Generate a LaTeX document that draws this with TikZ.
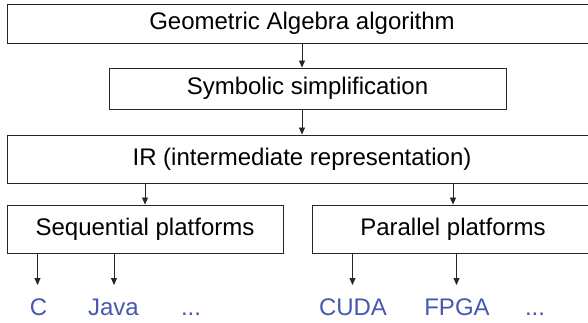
\documentclass[tikz,border=0pt]{standalone}
\usepackage{fontspec}
\setmainfont{Liberation Sans}
\usetikzlibrary{arrows.meta}
\definecolor{lblue}{RGB}{70,88,175}
\begin{document}
\begin{tikzpicture}[x=1pt,y=-1pt,
  box/.style={draw=black!85,line width=0.9pt,inner sep=0pt,font=\fontsize{24}{27}\selectfont},
  lang/.style={text=lblue,inner sep=0pt,font=\fontsize{24}{27}\selectfont,anchor=base},
  arr/.style={draw=black!85,line width=0.8pt,-{Triangle[length=7pt,width=6pt]}}]
\useasboundingbox (0,0) rectangle (588,322);
\clip (0,0) rectangle (588,322);
\node[box,minimum width=590pt,minimum height=39pt] (gaa) at (302,23.5) {Geometric Algebra algorithm};
\node[box,minimum width=397pt,minimum height=41pt] (sym) at (307.5,88.5) {Symbolic simplification};
\node[box,minimum width=590pt,minimum height=48pt] (ir) at (302,159) {IR (intermediate representation)};
\node[box,minimum width=276pt,minimum height=48pt] (seq) at (145,229) {Sequential platforms};
\node[box,minimum width=282pt,minimum height=48pt] (par) at (453,229) {Parallel platforms};
\node[lang] (c) at (38.5,315) {C};
\node[lang] (java) at (113.5,315) {Java};
\node[lang] (dots1) at (191,315) {...};
\node[lang] (cuda) at (353,315) {CUDA};
\node[lang] (fpga) at (457,315) {FPGA};
\node[lang] (dots2) at (535,315) {...};
\draw[arr] (gaa.south -| 302,0) -- (sym.north -| 302,0);
\draw[arr] (sym.south -| 302,0) -- (ir.north -| 302,0);
\draw[arr] (ir.south -| 145,0) -- (seq.north -| 145,0);
\draw[arr] (ir.south -| 453,0) -- (par.north -| 453,0);
\coordinate (ct) at (37.5,285);
\coordinate (jt) at (114,285);
\coordinate (cut) at (352.5,285);
\coordinate (ft) at (456.5,285);
\draw[arr] (seq.south -| ct) -- (ct);
\draw[arr] (seq.south -| jt) -- (jt);
\draw[arr] (par.south -| cut) -- (cut);
\draw[arr] (par.south -| ft) -- (ft);
\end{tikzpicture}
\end{document}
